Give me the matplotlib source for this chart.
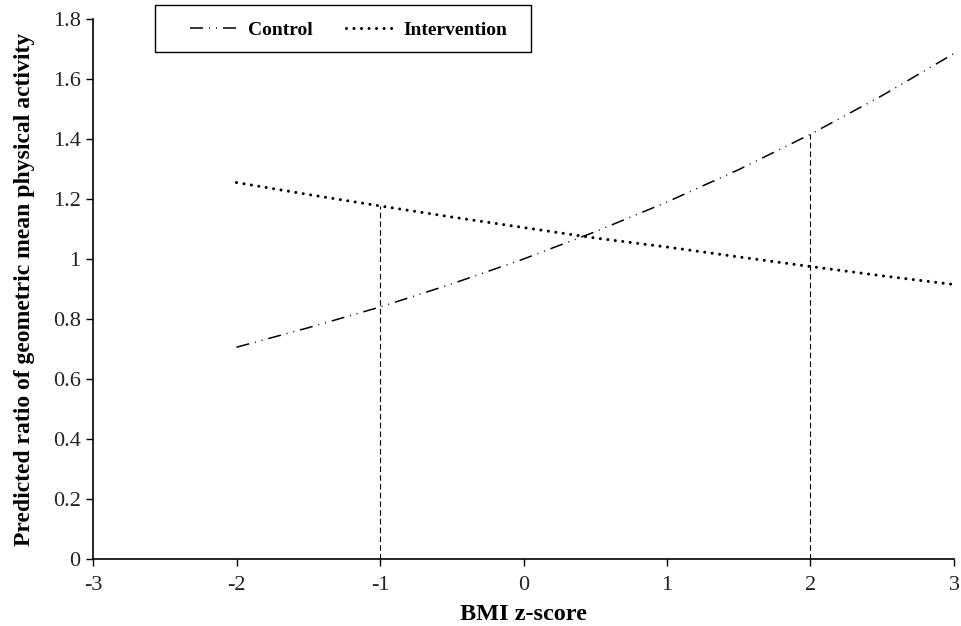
import matplotlib
matplotlib.use("Agg")
import matplotlib.pyplot as plt
from matplotlib.patches import Rectangle

# valores
bmi_z = [-2, -1.5, -1, -0.5, 0, 0.5, 1, 1.5, 2, 2.5, 3]
control = [0.706, 0.771, 0.840, 0.917, 1.0, 1.091, 1.190, 1.298, 1.416, 1.545, 1.685]
intervention = [1.255, 1.215, 1.177, 1.140, 1.105, 1.070, 1.040, 1.007, 0.975, 0.944, 0.915]

# lineas de referencia verticales
ref_x = [-1, 2]
ref_y = [1.177, 1.416]

xticks = [-3, -2, -1, 0, 1, 2, 3]
yticks = [0, 0.2, 0.4, 0.6, 0.8, 1, 1.2, 1.4, 1.6, 1.8]
ytick_labels = ["0", "0.2", "0.4", "0.6", "0.8", "1", "1.2", "1.4", "1.6", "1.8"]

plt.rcParams['font.family'] = ['Liberation Serif', 'DejaVu Serif']
plt.rcParams['lines.scale_dashes'] = False

W, H = 961, 626
fig = plt.figure(figsize=(W / 100, H / 100), dpi=100)
ax = fig.add_axes([0.0968, 0.107, 0.8959, 0.8626])

ax.plot(bmi_z, control, color='black', linewidth=1.1,
        dashes=(9.4, 4.3, 0.7, 4.3, 0.7, 4.3), label='Control')
ax.plot(bmi_z, intervention, color='black', linewidth=2.2,
        dashes=(0.01, 5.4), dash_capstyle='round', label='Intervention')
for xv, yv in zip(ref_x, ref_y):
    ax.plot([xv, xv], [0, yv], color='black', linewidth=0.8, dashes=(4, 2.3))

ax.set_xlim(-3, 3)
ax.set_ylim(0, 1.8)
ax.set_xticks(xticks)
ax.set_xticklabels([str(t) for t in xticks])
ax.set_yticks(yticks)
ax.set_yticklabels(ytick_labels)
ax.tick_params(axis='both', labelsize=16, direction='out', length=5, width=1,
               labelcolor='#222222')
ax.tick_params(axis='x', pad=7)
ax.tick_params(axis='y', pad=4)
ax.spines['top'].set_visible(False)
ax.spines['right'].set_visible(False)
ax.spines['left'].set_linewidth(1.2)
ax.spines['bottom'].set_linewidth(1.2)

ax.set_xlabel("BMI z-score", fontsize=17.5, fontweight='bold', labelpad=7)
ax.set_ylabel("Predicted ratio of geometric mean physical activity",
              fontsize=17, fontweight='bold', labelpad=13)

# leyenda sin marco y caja dibujada aparte
leg = ax.legend(loc='center left', bbox_to_anchor=(190 / W, 1 - 30 / H),
                bbox_transform=fig.transFigure, ncol=2, frameon=False,
                handlelength=2.6, handletextpad=0.36, columnspacing=1.75,
                borderpad=0, borderaxespad=0,
                prop={'weight': 'bold', 'size': 14})
box = Rectangle((155 / W, 1 - 52 / H), (531 - 155) / W, 47 / H,
                transform=fig.transFigure, fill=False, edgecolor='black',
                linewidth=1.0)
fig.patches.append(box)

fig.savefig("out.png", dpi=100)
